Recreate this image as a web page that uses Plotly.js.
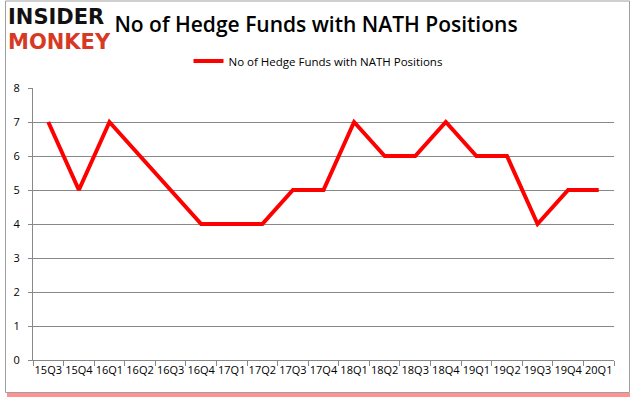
<!DOCTYPE html>
<html><head><meta charset="utf-8">
<script src="https://cdn.plot.ly/plotly-3.0.1.min.js"></script>
<style>html,body{margin:0;padding:0;background:#fff;}#chart{width:635px;height:405px;}</style>
</head><body><div id="chart"></div>
<script>
const quarters = ["15Q3","15Q4","16Q1","16Q2","16Q3","16Q4","17Q1","17Q2","17Q3","17Q4","18Q1","18Q2","18Q3","18Q4","19Q1","19Q2","19Q3","19Q4","20Q1"];
const funds = [7,5,7,6,5,4,4,4,5,5,7,6,6,7,6,6,4,5,5];
const seriesName = "No of Hedge Funds with NATH Positions";

const W = 635, H = 405, L = 33, R = 21, T = 88, B = 45;
const pw = W - L - R, ph = H - T - B;
const px = v => (v - L) / pw;
const py = v => (H - B - v) / ph;

const trace = {
  x: quarters, y: funds, type: 'scatter', mode: 'lines', name: seriesName,
  line: {color: '#ff0000', width: 4}
};
const logoFont = 'DejaVu Sans, sans-serif';
const layout = {
  width: W, height: H,
  margin: {l: L, r: R, t: T, b: B},
  paper_bgcolor: 'rgba(0,0,0,0)', plot_bgcolor: '#fff',
  font: {family: 'Open Sans, sans-serif', color: '#000', size: 11},
  title: {text: 'No of Hedge Funds with NATH Positions', font: {family: 'Open Sans, sans-serif', size: 21, color: '#000', weight: 600}, x: px(316), xref: 'paper', xanchor: 'center', y: 0.94, yanchor: 'middle'},
  showlegend: true,
  legend: {orientation: 'h', x: px(318), xanchor: 'center', y: py(61), yanchor: 'middle', font: {size: 11.5}},
  xaxis: {type: 'category', range: [-0.5, quarters.length - 0.5], showline: true, linecolor: '#888', linewidth: 1, tickangle: 0,
    ticks: 'outside', tickson: 'boundaries', ticklen: 5, tickcolor: '#888', showgrid: false, tickfont: {size: 11}, fixedrange: true},
  yaxis: {range: [0, 8], dtick: 1, showline: true, linecolor: '#888', ticks: 'outside', ticklen: 4, tickcolor: '#888', ticklabelstandoff: 6,
    showgrid: true, gridcolor: '#888', gridwidth: 1, zeroline: false, tickfont: {size: 11}, fixedrange: true},
  shapes: [
    {type: 'rect', xref: 'paper', yref: 'paper', x0: px(7), x1: px(630), y0: py(393), y1: py(397), line: {width: 0}, fillcolor: 'rgba(255,40,40,0.5)', layer: 'below'},
    {type: 'rect', xref: 'paper', yref: 'paper', x0: px(5.5), x1: px(629.5), y0: py(392.5), y1: py(1), line: {color: '#a0a0a0', width: 1}, fillcolor: 'rgba(0,0,0,0)', layer: 'below'}
  ],
  annotations: [
    {text: '<b>INSIDER</b>', xref: 'paper', yref: 'paper', x: px(6), y: py(17), xanchor: 'left', yanchor: 'middle', showarrow: false,
      font: {family: logoFont, size: 21, color: '#111'}},
    {text: '<b>MONKEY</b>', xref: 'paper', yref: 'paper', x: px(6), y: py(42), xanchor: 'left', yanchor: 'middle', showarrow: false,
      font: {family: logoFont, size: 21, color: '#d63a25'}}
  ]
};
Plotly.newPlot('chart', [trace], layout, {displayModeBar: false, staticPlot: true});
</script></body></html>
